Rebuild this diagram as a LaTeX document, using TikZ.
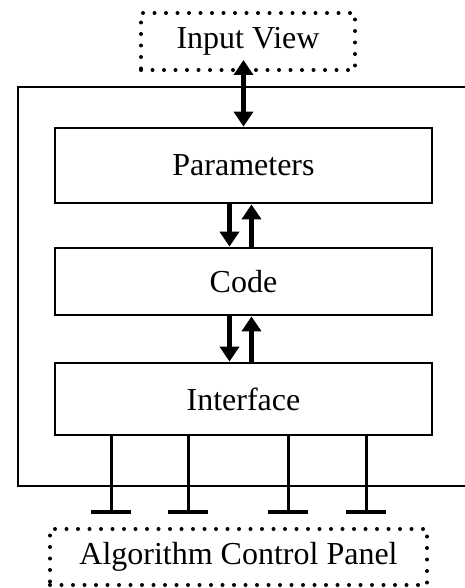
\documentclass[tikz,border=0pt]{standalone}
\usepackage{fontspec}
\setmainfont{Liberation Serif}
\usetikzlibrary{arrows.meta}
\tikzset{
  block/.style={draw,line width=2.8pt,minimum width=377pt,inner sep=0pt},
  dotbox/.style={draw,line width=4pt,line cap=round,dash pattern=on 0pt off 11.5pt,inner sep=0pt},
  flow/.style={line width=5pt,-{Triangle[length=15pt,width=19pt]}},
  flowboth/.style={line width=5pt,{Triangle[length=15pt,width=19pt]}-{Triangle[length=15pt,width=19pt]}},
  tie/.style={line width=3pt},
}
\begin{document}
\begin{tikzpicture}[x=1pt,y=-1pt]\fontsize{32}{38}\selectfont
\useasboundingbox (0,0) rectangle (464,588);
\node[dotbox,minimum width=214pt,minimum height=57pt] (input) at (248,41.5) {Input View};
\node[draw,line width=2.8pt,minimum width=457pt,minimum height=399pt] (module) at (246.5,286.5) {};
\node[block,minimum height=75pt] (params) at (243.5,165.5) {Parameters};
\node[block,minimum height=67pt] (code) at (243.5,281.5) {Code};
\node[block,minimum height=72pt] (iface) at (243.5,399) {Interface};
\node[dotbox,minimum width=377pt,minimum height=56pt] (panel) at (238.5,557) {Algorithm Control Panel};
% input <-> parameters
\draw[flowboth] (params.north) -- ([yshift=12pt]input.south -| params.north);
% parameters <-> code <-> interface
\draw[flow] ([xshift=-14pt]params.south) -- ([xshift=-14pt]code.north);
\draw[flow] ([xshift=8pt]code.north) -- ([xshift=8pt]params.south);
\draw[flow] ([xshift=-14pt]code.south) -- ([xshift=-14pt]iface.north);
\draw[flow] ([xshift=8pt]iface.north) -- ([xshift=8pt]code.south);
% ties to the control panel
\foreach \x [count=\i] in {111,188,288,366} {
  \coordinate (t\i) at (\x,512);
  \draw[tie] (iface.south -| t\i) -- (t\i);
  \draw[line width=4pt] ([xshift=-20pt]t\i) -- ([xshift=20pt]t\i);
}
\end{tikzpicture}
\end{document}
